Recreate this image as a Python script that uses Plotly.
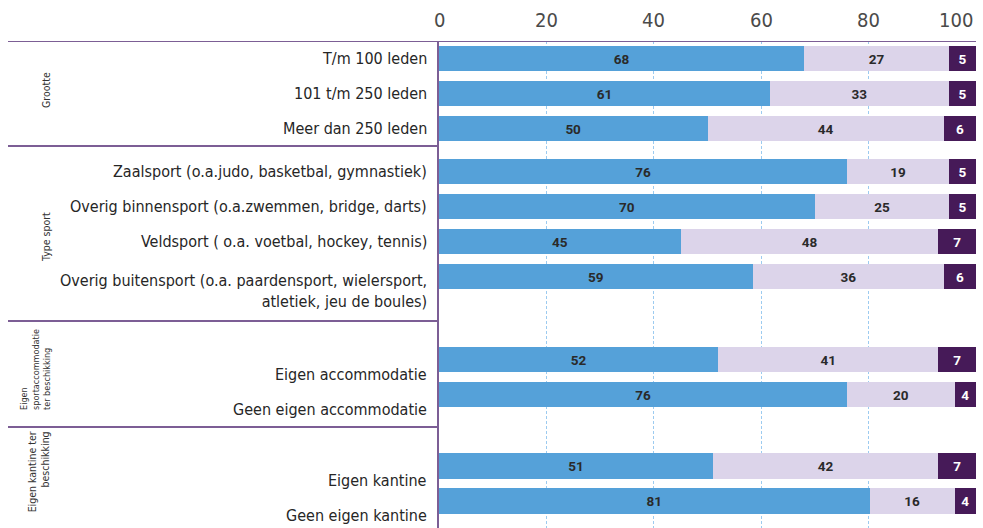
import plotly.graph_objects as go

# ---------------- data ----------------
categories = [
    "T/m 100 leden",
    "101 t/m 250 leden",
    "Meer dan 250 leden",
    "Zaalsport (o.a.judo, basketbal, gymnastiek)",
    "Overig binnensport (o.a.zwemmen, bridge, darts)",
    "Veldsport ( o.a. voetbal, hockey, tennis)",
    "Overig buitensport (o.a. paardensport, wielersport,<br>atletiek, jeu de boules)",
    "Eigen accommodatie",
    "Geen eigen accommodatie",
    "Eigen kantine",
    "Geen eigen kantine",
]
group_titles = [
    "Grootte",
    "Type sport",
    "Eigen<br>sportaccommodatie<br>ter beschikking",
    "Eigen kantine ter<br>beschikking",
]
group_sizes = [3, 4, 2, 2]

serie_1 = [68, 61, 50, 76, 70, 45, 59, 52, 76, 51, 81]
serie_2 = [27, 33, 44, 19, 25, 48, 36, 41, 20, 42, 16]
serie_3 = [5, 5, 6, 5, 5, 7, 6, 7, 4, 7, 4]
serie_names = ["Serie 1", "Serie 2", "Serie 3"]

tick_values = [0, 20, 40, 60, 80, 100]
tick_labels = ["0", "20", "40", "60", "80", "100"]

# ---------------- layout helpers ----------------
FONT = "DejaVu Sans Condensed, Liberation Sans Narrow, sans-serif"
BLUE = "#55a1d9"
LAV = "#dcd4ea"
DARK = "#461a58"
SEP = "#7c5e95"
GRID = "#9ccbf0"

group_top = [0, 3, 8, 11]
first_offset = [0.5, 0.73, 1.11, 1.14]
label_offset = [0, 0, 0.42, 0.42]

bar_y, label_y = [], []
i = 0
for g, n in enumerate(group_sizes):
    for k in range(n):
        y = group_top[g] + first_offset[g] + k
        bar_y.append(y)
        nbr = categories[i].count("<br>")
        label_y.append(y + label_offset[g] + 0.4 * nbr)
        i += 1

fig = go.Figure()
for vals, col, tcol, name in [
    (serie_1, BLUE, "#2a2a2a", serie_names[0]),
    (serie_2, LAV, "#2a2a2a", serie_names[1]),
    (serie_3, DARK, "#ffffff", serie_names[2]),
]:
    fig.add_trace(go.Bar(
        x=vals, y=bar_y, orientation="h", name=name,
        marker=dict(color=col, line=dict(width=0)),
        width=0.72,
        text=[str(v) for v in vals],
        textposition="inside", insidetextanchor="middle", textangle=0,
        textfont=dict(family="Roboto, sans-serif", size=13.5, color=tcol, weight="bold"),
        hoverinfo="skip",
        showlegend=False,
    ))

PLOT_H = 487
fig.update_layout(
    width=983, height=528,
    margin=dict(l=439, r=7, t=41, b=0),
    barmode="stack", barnorm="percent",
    plot_bgcolor="white", paper_bgcolor="white",
    font=dict(family=FONT, color="#262626"),
    xaxis=dict(range=[0, 100], side="top", tickvals=tick_values, showticklabels=False,
               showgrid=True, gridcolor=GRID, griddash="3px,2px", gridwidth=1,
               zeroline=False, showline=False, ticks=""),
    yaxis=dict(range=[PLOT_H / 35, 0], showticklabels=False, showgrid=False,
               zeroline=False, showline=True, linecolor=SEP, linewidth=2, ticks=""),
)

# tick labels on top
for v, t in zip(tick_values, tick_labels):
    last = v == tick_values[-1]
    fig.add_annotation(x=v, xref="x", y=1, yref="paper", yanchor="bottom", yshift=7,
                       xanchor="right" if last else "center", xshift=-1 if last else 0,
                       text=t, showarrow=False,
                       font=dict(family=FONT, size=20, color="#4a4a4a"))

# category labels
for lab, y in zip(categories, label_y):
    fig.add_annotation(x=0, xref="paper", y=y, yref="y", xanchor="right", yanchor="middle",
                       xshift=-10, text=lab, showarrow=False, align="right",
                       font=dict(family=FONT, size=16, color="#262626"))

# separators
x_left = (8 - 439) / 537
fig.add_shape(type="line", xref="paper", yref="y", x0=x_left, x1=1.0, y0=0, y1=0,
              line=dict(color=SEP, width=2))
for yb in [3, 8, 11.03]:
    fig.add_shape(type="line", xref="paper", yref="y", x0=x_left, x1=0, y0=yb, y1=yb,
                  line=dict(color=SEP, width=2))

# group labels
gx = (54 - 439) / 537
group_label_y = [1.4, 5.6, 8.17, 11.11]
group_yanchor = ["middle", "middle", "top", "top"]
group_align = ["center", "center", "left", "right"]
group_size = [10.5, 10.5, 9, 10.5]
for t, y, ya, al, fs in zip(group_titles, group_label_y, group_yanchor, group_align, group_size):
    fig.add_annotation(x=gx, xref="paper", y=y, yref="y", xanchor="right", yanchor=ya,
                       text=t, textangle=-90, showarrow=False, align=al,
                       font=dict(family=FONT, size=fs, color="#333333"))

fig.write_html("out.html", config={"displayModeBar": False},
               post_script="document.body.style.margin='0px';")
